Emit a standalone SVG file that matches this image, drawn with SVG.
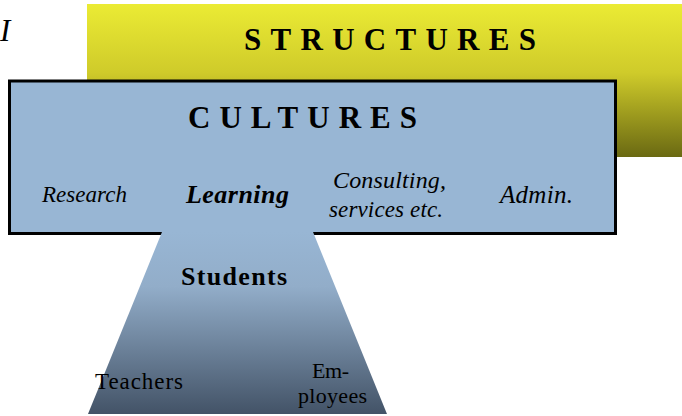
<svg xmlns="http://www.w3.org/2000/svg" width="682" height="416" viewBox="0 0 682 416">
<defs>
<linearGradient id="gy" x1="0" y1="0" x2="0" y2="1">
<stop offset="0" stop-color="#ebeb34"/>
<stop offset="0.45" stop-color="#cfcb2a"/>
<stop offset="1" stop-color="#6a6912"/>
</linearGradient>
<linearGradient id="gb" x1="0" y1="0" x2="0" y2="1">
<stop offset="0" stop-color="#98b6d4"/>
<stop offset="0.3" stop-color="#92adc9"/>
<stop offset="1" stop-color="#435367"/>
</linearGradient>
<style>
text{font-family:"Liberation Serif","Times New Roman",serif;fill:#000}
.cap{font-weight:bold;font-size:31px}
.it{font-style:italic;font-size:23px}
.rg{font-size:22px}
</style>
</defs>
<g id="label-i"><text x="0" y="41" style="font-style:italic;font-size:31px">I</text></g>
<g id="structures">
<rect x="87" y="4" width="595" height="153" fill="url(#gy)"/>
<text class="cap" x="244" y="50" textLength="292">STRUCTURES</text>
</g>
<g id="cultures">
<rect x="9.5" y="81" width="606" height="152.5" fill="#98b6d4" stroke="#000" stroke-width="3"/>
<text class="cap" x="188" y="128" textLength="229">CULTURES</text>
<text class="it" x="42" y="202" textLength="85">Research</text>
<text class="it" x="186" y="203" textLength="103" style="font-weight:bold;font-size:26px">Learning</text>
<text class="it" x="333" y="188" textLength="113" style="font-size:24px">Consulting,</text>
<text class="it" x="329" y="217" textLength="114">services etc.</text>
<text class="it" x="500" y="203" textLength="73" style="font-size:25px">Admin.</text>
</g>
<g id="students">
<polygon points="162,232 313,232 387,414 88,414" fill="url(#gb)"/>
<text x="181" y="285" textLength="106" style="font-weight:bold;font-size:26px">Students</text>
<text class="rg" x="95" y="389" textLength="88" style="font-size:23px">Teachers</text>
<text class="rg" x="312" y="378" textLength="37">Em-</text>
<text class="rg" x="298" y="403" textLength="69">ployees</text>
</g>
<g id="connectors"/>
</svg>
